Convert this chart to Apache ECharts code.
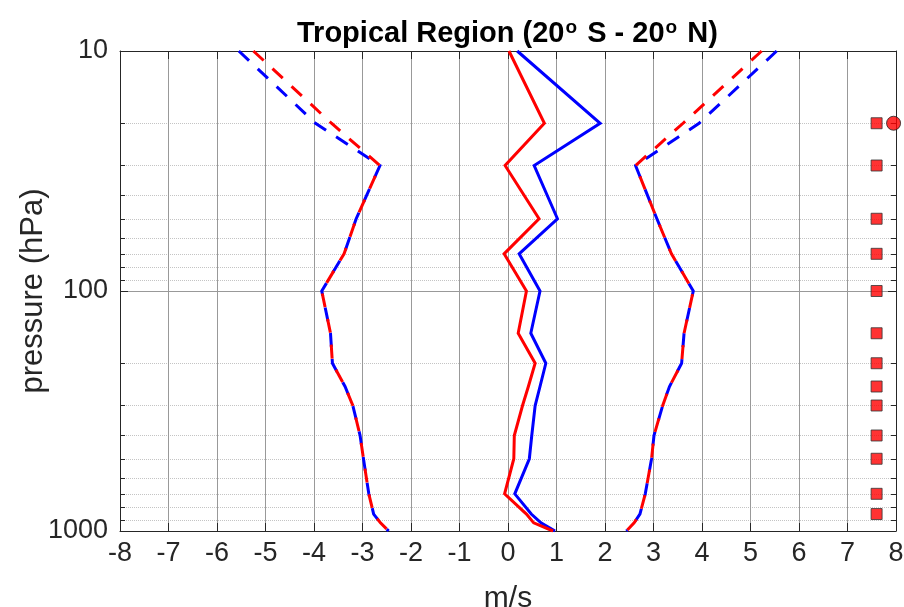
<!DOCTYPE html>
<html>
<head>
<meta charset="utf-8">
<script src="https://cdn.jsdelivr.net/npm/echarts@6/dist/echarts.min.js"></script>
<style>html,body{margin:0;padding:0;background:#fff;}#c{width:904px;height:607px;}</style>
</head>
<body>
<div id="c"></div>
<script>
// pressure levels (hPa)
var levels = [10, 20, 30, 50, 70, 100, 150, 200, 250, 300, 400, 500, 700, 850, 925, 1000];
// solid lines (m/s)
var redSolid  = [0.02, 0.75, -0.06, 0.64, -0.08, 0.38, 0.21, 0.56, 0.42, 0.30, 0.13, 0.12, -0.07, 0.38, 0.53, 0.93];
var blueSolid = [0.19, 1.90, 0.54, 1.02, 0.23, 0.66, 0.47, 0.78, 0.66, 0.56, 0.49, 0.44, 0.14, 0.48, 0.68, 0.97];
// dashed lines, negative side
var redDashL  = [-5.25, -3.64, -2.64, -3.13, -3.38, -3.84, -3.66, -3.62, -3.36, -3.20, -3.05, -2.98, -2.87, -2.77, -2.63, -2.46];
var blueDashL = [-5.55, -3.97, -2.64, -3.13, -3.38, -3.84, -3.66, -3.62, -3.36, -3.20, -3.05, -2.98, -2.87, -2.77, -2.63, -2.46];
// dashed lines, positive side
var redDashR  = [5.23, 3.61, 2.63, 3.07, 3.37, 3.82, 3.63, 3.58, 3.33, 3.19, 3.01, 2.96, 2.83, 2.72, 2.60, 2.44];
var blueDashR = [5.54, 3.94, 2.63, 3.07, 3.37, 3.82, 3.63, 3.58, 3.33, 3.19, 3.01, 2.96, 2.83, 2.72, 2.60, 2.44];
// marker levels
var squareLevels = [20, 30, 50, 70, 100, 150, 200, 250, 300, 400, 500, 700, 850];
var squareX = 7.6;
var circlePoint = [7.95, 20];
// axis ticks
var xTicks = [-8, -7, -6, -5, -4, -3, -2, -1, 0, 1, 2, 3, 4, 5, 6, 7, 8];
var yMin = 10, yMax = 1000;

function pairs(xs) { return xs.map(function (x, i) { return [x, levels[i]]; }); }

var FONT = '"Liberation Sans", Arial, Helvetica, sans-serif';
var AX = '#262626';

var chart = echarts.init(document.getElementById('c'), null, {renderer: 'canvas'});

function lineSeries(data, color, dashed) {
  return {
    type: 'line', data: pairs(data), symbol: 'none', animation: false,
    lineStyle: {color: color, width: 3, type: dashed ? [14, 12] : 'solid', cap: 'butt', join: 'miter'},
    z: 3
  };
}
function plain(v) { return String(v); }

var option = {
  animation: false,
  backgroundColor: '#fff',
  title: {
    text: '{a|Tropical Region (20}{s|o}{a| S - 20}{s|o}{a| N)}',
    left: 292, top: 13,
    textStyle: {
      rich: {
        a: {fontFamily: FONT, fontSize: 29, fontWeight: 'bold', color: '#000', lineHeight: 32},
        s: {fontFamily: FONT, fontSize: 19, fontWeight: 'bold', color: '#000', verticalAlign: 'top', lineHeight: 19, padding: [0, 2, 0, 1]}
      }
    }
  },
  grid: {left: 120, right: 8, top: 51, bottom: 76, show: false, containLabel: false, outerBoundsMode: 'none'},
  xAxis: [{
    type: 'value', min: xTicks[0], max: xTicks[xTicks.length - 1], interval: 1, position: 'bottom',
    name: 'm/s', nameLocation: 'middle', nameGap: 53,
    nameTextStyle: {fontFamily: FONT, fontSize: 30, color: AX},
    axisLine: {show: true, onZero: false, lineStyle: {color: AX, width: 1}},
    axisTick: {show: true, inside: true, length: 8, lineStyle: {color: AX}},
    axisLabel: {fontFamily: FONT, fontSize: 27, color: AX, margin: 9, formatter: plain},
    splitLine: {show: true, lineStyle: {color: '#999', width: 1}}
  }, {
    type: 'value', min: xTicks[0], max: xTicks[xTicks.length - 1], interval: 1, position: 'top',
    axisLine: {show: true, onZero: false, lineStyle: {color: AX, width: 1}},
    axisTick: {show: true, inside: true, length: 8, lineStyle: {color: AX}},
    axisLabel: {show: false}, splitLine: {show: false}
  }],
  yAxis: [{
    type: 'log', logBase: 10, min: yMin, max: yMax, inverse: true, position: 'left',
    name: 'pressure (hPa)', nameLocation: 'middle', nameGap: 71, nameRotate: 90, nameMoveOverlap: false,
    nameTextStyle: {fontFamily: FONT, fontSize: 31, color: AX},
    axisLine: {show: true, onZero: false, lineStyle: {color: AX, width: 1}},
    axisTick: {show: true, inside: true, length: 8, lineStyle: {color: AX}},
    minorTick: {show: true, splitNumber: 9, length: 5, lineStyle: {color: AX}},
    axisLabel: {fontFamily: FONT, fontSize: 27, color: AX, margin: 12, formatter: plain},
    splitLine: {show: true, lineStyle: {color: '#999', width: 1}},
    minorSplitLine: {show: true, lineStyle: {color: '#c4c4c4', width: 1, type: 'dotted'}}
  }, {
    type: 'log', logBase: 10, min: yMin, max: yMax, inverse: true, position: 'right',
    axisLine: {show: true, onZero: false, lineStyle: {color: AX, width: 1}},
    axisTick: {show: true, inside: true, length: 8, lineStyle: {color: AX}},
    minorTick: {show: true, splitNumber: 9, length: 5, lineStyle: {color: AX}},
    axisLabel: {show: false}, splitLine: {show: false}
  }],
  series: [
    lineSeries(blueDashL, '#0000ff', true),
    lineSeries(redDashL, '#ff0000', true),
    lineSeries(blueDashR, '#0000ff', true),
    lineSeries(redDashR, '#ff0000', true),
    lineSeries(blueSolid, '#0000ff', false),
    lineSeries(redSolid, '#ff0000', false),
    {
      type: 'scatter', clip: false, symbol: 'rect', symbolSize: 11, z: 4,
      data: squareLevels.map(function (p) { return [squareX, p]; }),
      itemStyle: {color: '#ff0000', borderColor: '#333', borderWidth: 1}
    },
    {
      type: 'scatter', clip: false, symbol: 'circle', symbolSize: 14, z: 4,
      data: [circlePoint],
      itemStyle: {color: '#ff0000', borderColor: '#222', borderWidth: 1}
    }
  ]
};
chart.setOption(option);
</script>
</body>
</html>
